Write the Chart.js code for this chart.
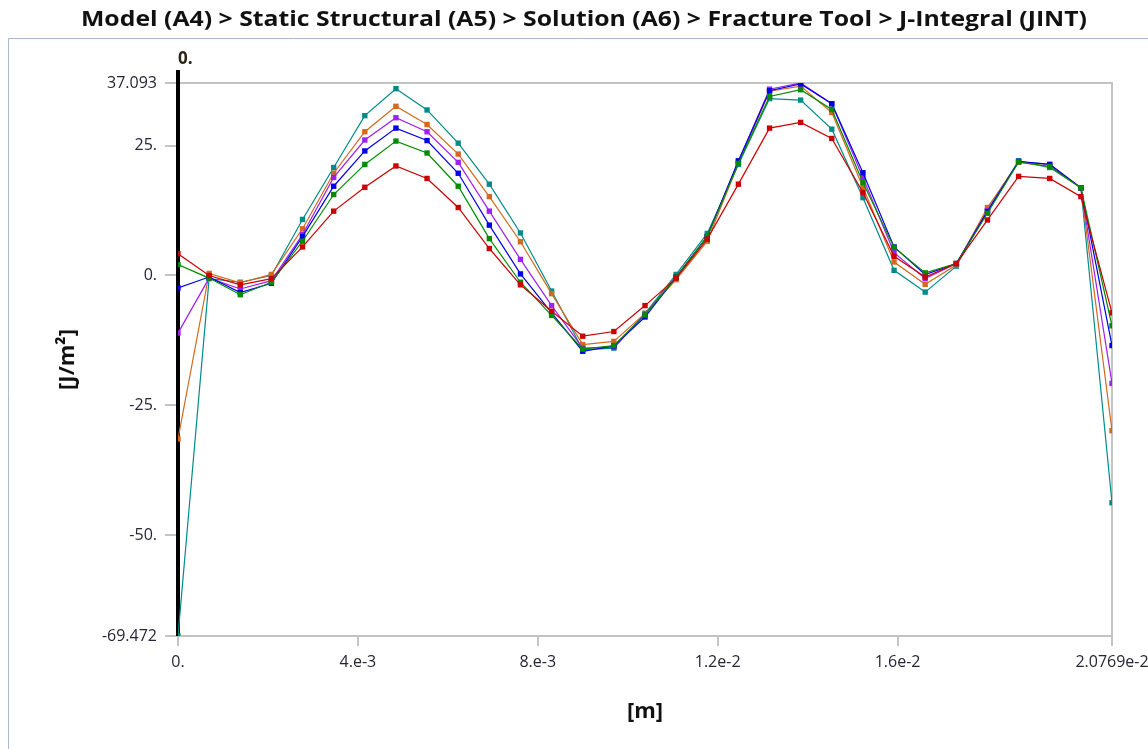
<!DOCTYPE html>
<html>
<head>
<meta charset="utf-8">
<script src="https://cdn.jsdelivr.net/npm/chart.js@4.4.1/dist/chart.umd.min.js"></script>
<style>
  html, body { margin: 0; padding: 0; background: #ffffff; }
  #wrap { position: relative; width: 1148px; height: 749px; }
</style>
</head>
<body>
<div id="wrap"><canvas id="c" width="1148" height="749"></canvas></div>
<script>
// Crack-front positions [m]
const positions = [
  0, 0.000692, 0.001385, 0.002077, 0.002769, 0.003462, 0.004154, 0.004846,
  0.005538, 0.006231, 0.006923, 0.007615, 0.008308, 0.009000, 0.009692, 0.010385,
  0.011077, 0.011769, 0.012461, 0.013154, 0.013846, 0.014538, 0.015231, 0.015923,
  0.016615, 0.017308, 0.018000, 0.018692, 0.019384, 0.020077, 0.020769
];

// J-Integral per contour [J/m^2]
const contour1 = [4.2, 0.0, -1.8, -0.6, 5.5, 12.4, 17.0, 21.1, 18.7, 13.1, 5.2, -1.8, -6.9, -11.7, -10.8, -5.8,
  -0.5, 7.0, 17.6, 28.4, 29.5, 26.4, 16.0, 3.7, -0.3, 2.3, 10.7, 19.1, 18.7, 15.2, -7.2];
const contour2 = [2.1, -0.5, -3.7, -1.3, 6.6, 15.6, 21.4, 25.9, 23.6, 17.2, 7.1, -1.3, -7.7, -14.2, -13.5, -7.6,
  -0.3, 7.5, 21.6, 34.5, 35.8, 32.0, 17.9, 5.4, 0.5, 2.3, 12.0, 21.9, 21.0, 16.9, -9.7];
const contour3 = [-2.4, -0.3, -3.3, -1.5, 7.5, 17.2, 24.0, 28.4, 26.0, 19.7, 9.7, 0.3, -7.2, -14.6, -13.6, -8.0,
  -0.3, 7.5, 22.1, 35.6, 36.9, 33.1, 19.8, 5.5, 0.2, 2.3, 12.3, 22.0, 21.4, 16.9, -13.5];
const contour4 = [-11.1, -0.5, -2.6, -1.0, 7.9, 18.9, 26.1, 30.4, 27.7, 21.8, 12.4, 3.1, -5.8, -14.0, -13.8, -7.5,
  -0.3, 7.5, 21.9, 35.9, 37.093, 33.1, 18.9, 4.4, -0.6, 2.3, 12.5, 21.9, 21.4, 16.9, -20.8];
const contour5 = [-31.5, 0.4, -1.4, 0.2, 9.0, 19.7, 27.7, 32.6, 29.1, 23.4, 15.2, 6.5, -3.5, -13.3, -12.7, -7.3,
  -0.8, 6.6, 21.6, 35.5, 36.5, 31.4, 17.0, 2.6, -1.7, 2.0, 13.1, 21.8, 21.0, 16.9, -29.9];
const contour6 = [-69.472, -0.6, -1.3, 0.0, 10.8, 20.8, 30.8, 36.0, 31.9, 25.5, 17.6, 8.2, -3.0, -14.3, -14.0, -7.3,
  0.2, 8.1, 21.4, 34.1, 33.8, 28.2, 15.0, 1.0, -3.2, 1.8, 12.6, 22.1, 20.8, 16.9, -43.8];

const seriesNames = ['Contour 1', 'Contour 2', 'Contour 3', 'Contour 4', 'Contour 5', 'Contour 6'];
const seriesColors = ['#cc0000', '#008c00', '#0000e6', '#a020f0', '#d2691e', '#008b8b'];
const seriesValues = [contour1, contour2, contour3, contour4, contour5, contour6];

// Axis ticks
const xTickValues = [0, 0.004, 0.008, 0.012, 0.016, 0.020769];
const xTickLabels = ['0.', '4.e-3', '8.e-3', '1.2e-2', '1.6e-2', '2.0769e-2'];
const yTickValues = [37.093, 25, 0, -25, -50, -69.472];
const yTickLabels = ['37.093', '25.', '0.', '-25.', '-50.', '-69.472'];
const yMin = -69.472, yMax = 37.093;
const xMin = 0, xMax = 0.020769;

const titleText = 'Model (A4) > Static Structural (A5) > Solution (A6) > Fracture Tool > J-Integral (JINT)';
const probeLabel = '0.';

const uiFamily = '"Open Sans", "Noto Sans", sans-serif';
const tickFont = { family: uiFamily, size: 16 };
const tickColor = '#262636';
const frameGrey = '#c4c4c4';

// Heading, panel border, plot frame and the probe line at the start of the crack front
const framePlugin = {
  id: 'frame',
  beforeDraw(chart) {
    const ctx = chart.ctx;
    ctx.save();
    ctx.strokeStyle = '#a7b8cf';
    ctx.lineWidth = 1;
    ctx.beginPath();
    ctx.moveTo(8.5, 749);
    ctx.lineTo(8.5, 38.5);
    ctx.lineTo(1148, 38.5);
    ctx.stroke();

    // heading: slightly widened bold face, centred over the panel
    ctx.font = 'bold 22px ' + uiFamily;
    ctx.fillStyle = '#111111';
    ctx.textAlign = 'left';
    ctx.textBaseline = 'middle';
    const w = ctx.measureText(titleText).width;
    const targetW = 1006;
    const sx = targetW / w;
    ctx.translate(584 - targetW / 2, 20);
    ctx.scale(sx, 1);
    ctx.fillText(titleText, 0, 0);
    ctx.restore();
  },
  beforeDatasetsDraw(chart) {
    const ctx = chart.ctx;
    const a = chart.chartArea;
    ctx.save();
    ctx.strokeStyle = frameGrey;
    ctx.lineWidth = 2;
    ctx.beginPath();
    ctx.moveTo(a.left, a.top);
    ctx.lineTo(a.right, a.top);
    ctx.lineTo(a.right, a.bottom);
    ctx.stroke();
    const px = chart.scales.x.getPixelForValue(xMin);
    ctx.strokeStyle = '#000000';
    ctx.lineWidth = 4;
    ctx.beginPath();
    ctx.moveTo(px, 70);
    ctx.lineTo(px, a.bottom);
    ctx.stroke();
    ctx.fillStyle = '#2a2418';
    ctx.font = 'bold 17px ' + uiFamily;
    ctx.textAlign = 'left';
    ctx.textBaseline = 'alphabetic';
    ctx.fillText(probeLabel, px, 64);
    ctx.restore();
  }
};

const datasets = seriesValues.map((vals, k) => ({
  label: seriesNames[k],
  data: positions.map((x, i) => ({ x: x, y: vals[i] })),
  borderColor: seriesColors[k],
  backgroundColor: seriesColors[k],
  borderWidth: 1.2,
  pointStyle: 'rect',
  pointRadius: 3.8,
  pointBorderWidth: 0,
  tension: 0
}));

new Chart(document.getElementById('c'), {
  type: 'line',
  data: { datasets: datasets },
  options: {
    responsive: false,
    animation: false,
    devicePixelRatio: 1,
    layout: { padding: { left: 0, right: 36, top: 83, bottom: 0 } },
    plugins: {
      legend: { display: false },
      tooltip: { enabled: false },
      title: { display: false }
    },
    scales: {
      x: {
        type: 'linear',
        min: xMin,
        max: xMax,
        afterBuildTicks: s => { s.ticks = xTickValues.map(v => ({ value: v })); },
        afterFit: s => { s.height = 113; s.paddingLeft = 0; s.paddingRight = 0; },
        ticks: {
          autoSkip: false, maxRotation: 0, padding: 7,
          color: tickColor, font: tickFont,
          callback: (v, i) => xTickLabels[i]
        },
        grid: { drawOnChartArea: false, drawTicks: true, tickLength: 10, color: frameGrey, lineWidth: 2 },
        border: { display: true, color: frameGrey, width: 2 },
        title: {
          display: true, text: '[m]', color: '#111111',
          font: { family: uiFamily, size: 22, weight: 'bold' },
          padding: { top: 0, bottom: 24 }
        }
      },
      y: {
        type: 'linear',
        min: yMin,
        max: yMax,
        afterBuildTicks: s => { s.ticks = yTickValues.map(v => ({ value: v })); },
        afterFit: s => { s.width = 178; s.paddingTop = 0; s.paddingBottom = 0; },
        ticks: {
          autoSkip: false, padding: 8,
          color: tickColor, font: tickFont,
          callback: (v, i) => yTickLabels[i]
        },
        grid: { drawOnChartArea: false, drawTicks: true, tickLength: 13, color: frameGrey, lineWidth: 2 },
        border: { display: true, color: frameGrey, width: 2 },
        title: {
          display: true, text: '[J/m²]', color: '#111111',
          font: { family: uiFamily, size: 22, weight: 'bold' },
          padding: { top: 55, bottom: 0 }
        }
      }
    }
  },
  plugins: [framePlugin]
});
</script>
</body>
</html>
